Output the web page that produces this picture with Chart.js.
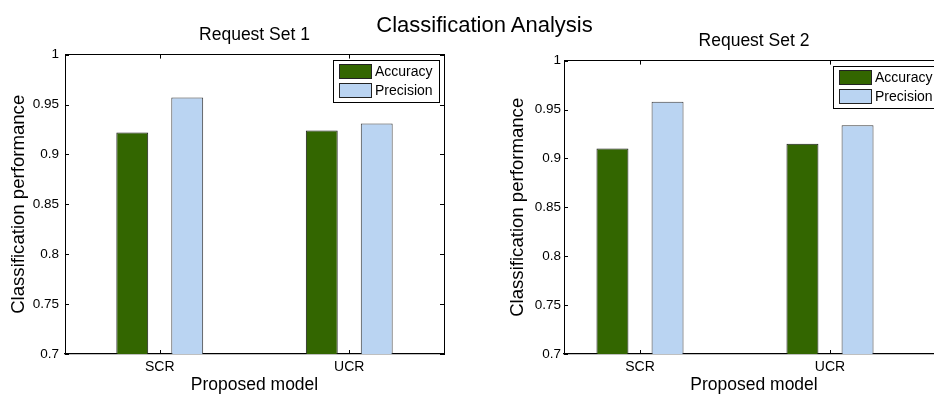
<!DOCTYPE html>
<html>
<head>
<meta charset="utf-8">
<script src="https://cdn.jsdelivr.net/npm/chart.js@4.4.1/dist/chart.umd.min.js"></script>
<style>
  html, body { margin: 0; padding: 0; background: #fff; }
  body { width: 934px; height: 394px; overflow: hidden; position: relative; font-family: "Liberation Sans", Arial, sans-serif; }
  #mainTitle { position: absolute; left: 0; width: 969px; top: 14px; text-align: center; font-size: 22px; line-height: 22px; color: #000; z-index: 2; }
  .box { position: absolute; top: 0; height: 394px; }
  #box1 { left: 0; width: 470px; }
  #box2 { left: 470px; width: 500px; }
</style>
</head>
<body>
<div id="mainTitle">Classification Analysis</div>
<div class="box" id="box1"><canvas id="chart1"></canvas></div>
<div class="box" id="box2"><canvas id="chart2"></canvas></div>
<script>
const categories = ["SCR", "UCR"];
const seriesNames = ["Accuracy", "Precision"];
const set1Accuracy = [0.922, 0.924];
const set1Precision = [0.957, 0.931];
const set2Accuracy = [0.910, 0.915];
const set2Precision = [0.958, 0.934];
const xTicks = [1, 2];
const yTicks = [0.7, 0.75, 0.8, 0.85, 0.9, 0.95, 1];

const FONT = "'Liberation Sans', Arial, sans-serif";
const colors = ["#336600", "#bad4f2"];

function toPoints(values) {
  return values.map((v, i) => ({ x: xTicks[i], y: v }));
}

// legend drawn as a boxed panel in the upper right corner of the plot
const boxedLegend = {
  id: "boxedLegend",
  afterDatasetsDraw(chart) {
    const { ctx, chartArea } = chart;
    ctx.save();
    ctx.font = "14px " + FONT;
    const textW = Math.max(...chart.data.datasets.map((d) => ctx.measureText(d.label).width));
    const w = Math.round(6 + 32 + 4 + textW + 6);
    const h = 42;
    const x0 = Math.round(chartArea.right - 5 - w);
    const y0 = Math.round(chartArea.top + 5);
    ctx.fillStyle = "#fff";
    ctx.fillRect(x0, y0, w, h);
    ctx.strokeStyle = "#000";
    ctx.lineWidth = 1;
    ctx.strokeRect(x0 + 0.5, y0 + 0.5, w, h);
    chart.data.datasets.forEach((d, i) => {
      const sy = Math.round(y0 + 4 + i * 19.4);
      ctx.fillStyle = d.backgroundColor;
      ctx.fillRect(x0 + 6, sy, 32, 14);
      ctx.strokeStyle = "#222";
      ctx.strokeRect(x0 + 6.5, sy + 0.5, 32, 14);
      ctx.fillStyle = "#000";
      ctx.textBaseline = "middle";
      ctx.fillText(d.label, x0 + 42, sy + 8);
    });
    ctx.restore();
  }
};

// matlab style tick marks pointing into the plot on all four sides
const innerTicks = {
  id: "innerTicks",
  afterDraw(chart) {
    const { ctx, chartArea: a, scales } = chart;
    ctx.save();
    ctx.strokeStyle = "#000";
    ctx.lineWidth = 1;
    ctx.beginPath();
    scales.x.ticks.forEach((t) => {
      const px = Math.round(scales.x.getPixelForValue(t.value)) + 0.5;
      ctx.moveTo(px, a.bottom);
      ctx.lineTo(px, a.bottom - 4);
      ctx.moveTo(px, a.top);
      ctx.lineTo(px, a.top + 4);
    });
    scales.y.ticks.forEach((t) => {
      const py = Math.round(scales.y.getPixelForValue(t.value)) + 0.5;
      ctx.moveTo(a.left, py);
      ctx.lineTo(a.left + 4, py);
      ctx.moveTo(a.right, py);
      ctx.lineTo(a.right - 4, py);
    });
    ctx.stroke();
    ctx.restore();
  }
};

function makeChart(canvasId, o) {
  const setXTicks = (s) => { s.ticks = xTicks.map((v) => ({ value: v })); };
  const setYTicks = (s) => { s.ticks = yTicks.map((v) => ({ value: v })); };
  const noGrid = { offset: false, drawOnChartArea: false, drawTicks: false };

  return new Chart(document.getElementById(canvasId), {
    type: "bar",
    data: {
      datasets: [
        { label: seriesNames[0], data: toPoints(o.accuracy), backgroundColor: colors[0], borderColor: "#1a1a1a", borderWidth: 1 },
        { label: seriesNames[1], data: toPoints(o.precision), backgroundColor: colors[1], borderColor: "#3a3a3a", borderWidth: 1 }
      ]
    },
    options: {
      responsive: true,
      maintainAspectRatio: false,
      animation: false,
      datasets: { bar: { categoryPercentage: 0.58, barPercentage: 0.58 } },
      layout: { padding: { left: 0, top: 0, right: 26, bottom: 0 } },
      plugins: {
        legend: { display: false },
        tooltip: { enabled: false },
        title: {
          display: true,
          text: o.title,
          fullSize: false,
          color: "#000",
          font: { family: FONT, size: 17.5, weight: "normal" },
          padding: { top: o.titleTop, bottom: 8.8 }
        }
      },
      scales: {
        x: {
          type: "linear",
          position: "bottom",
          min: o.xMin,
          max: o.xMax,
          offset: false,
          afterBuildTicks: setXTicks,
          afterFit: (s) => { s.height = 40; },
          grid: noGrid,
          border: { display: true, color: "#000", width: 1.3 },
          ticks: {
            padding: 4.6,
            autoSkip: false,
            maxRotation: 0,
            color: "#000",
            font: { family: FONT, size: 14 },
            callback: (v, i) => categories[i]
          },
          title: {
            display: true,
            text: "Proposed model",
            color: "#000",
            font: { family: FONT, size: 17.5, lineHeight: 1 },
            padding: 0
          }
        },
        xTop: {
          type: "linear",
          position: "top",
          min: o.xMin,
          max: o.xMax,
          offset: false,
          afterBuildTicks: setXTicks,
          afterFit: (s) => { s.height = 0; },
          grid: noGrid,
          border: { display: true, color: "#000", width: 1 },
          ticks: { display: false }
        },
        y: {
          position: "left",
          min: 0.7,
          max: 1,
          afterBuildTicks: setYTicks,
          afterFit: (s) => { s.width = o.yAxisWidth; },
          grid: noGrid,
          border: { display: true, color: "#000", width: 1 },
          ticks: {
            padding: o.yTickPad,
            autoSkip: false,
            color: "#000",
            font: { family: FONT, size: 13.5 },
            callback: (v) => String(v)
          },
          title: {
            display: true,
            text: "Classification performance",
            color: "#000",
            font: { family: FONT, size: 18.6 },
            padding: { top: o.yTitlePad, bottom: 0 }
          }
        },
        yRight: {
          position: "right",
          min: 0.7,
          max: 1,
          afterBuildTicks: setYTicks,
          afterFit: (s) => { s.width = 0; },
          grid: noGrid,
          border: { display: true, color: "#000", width: 1 },
          ticks: { display: false }
        }
      }
    },
    plugins: [innerTicks, boxedLegend]
  });
}

makeChart("chart1", {
  title: "Request Set 1",
  accuracy: set1Accuracy,
  precision: set1Precision,
  xMin: 0.5,
  xMax: 2.5,
  titleTop: 24.8,
  yAxisWidth: 65,
  yTickPad: 6,
  yTitlePad: 7.3
});

makeChart("chart2", {
  title: "Request Set 2",
  accuracy: set2Accuracy,
  precision: set2Precision,
  xMin: 0.6,
  xMax: 2.6,
  titleTop: 30.8,
  yAxisWidth: 94,
  yTickPad: 3,
  yTitlePad: 36.8
});
</script>
</body>
</html>
